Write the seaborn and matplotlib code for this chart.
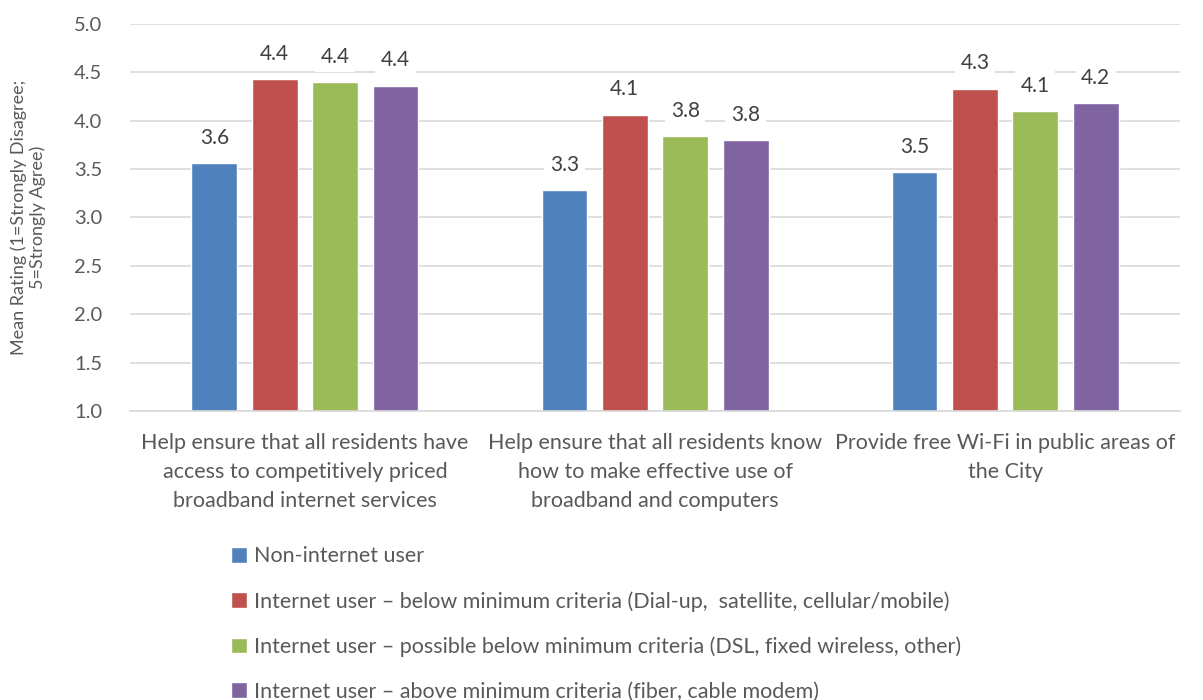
import pandas as pd
import matplotlib.pyplot as plt
import seaborn as sns
from matplotlib.patches import Patch

# Chart data
categories = [
    'Help ensure that all residents have\naccess to competitively priced\nbroadband internet services',
    'Help ensure that all residents know\nhow to make effective use of\nbroadband and computers',
    'Provide free Wi-Fi in public areas of\nthe City',
]
groups = [
    'Non-internet user',
    'Internet user \u2013 below minimum criteria (Dial-up,  satellite, cellular/mobile)',
    'Internet user \u2013 possible below minimum criteria (DSL, fixed wireless, other)',
    'Internet user \u2013 above minimum criteria (fiber, cable modem)',
]
non_user = [3.56, 3.28, 3.47]
below_min = [4.43, 4.06, 4.33]
possible_below = [4.40, 3.84, 4.10]
above_min = [4.36, 3.80, 4.18]
colors = ['#4f81bd', '#c0504d', '#9bbb59', '#8064a2']

rows = []
for g, vals in zip(groups, [non_user, below_min, possible_below, above_min]):
    for c, v in zip(categories, vals):
        rows.append({'category': c, 'group': g, 'rating': v})
df = pd.DataFrame(rows)

sns.set_style('white')
plt.rcParams['font.family'] = ['Lato', 'DejaVu Sans']
text_color = '#595959'

fig = plt.figure(figsize=(12.03, 7), dpi=100)
ax = fig.add_axes([0.108, 0.413, 0.873, 0.553])

sns.barplot(data=df, x='category', y='rating', hue='group', hue_order=groups,
            palette=colors, width=0.69, gap=0.24, ax=ax, legend=False,
            bottom=0, saturation=1)

ax.set_ylim(1.0, 5.0)
ax.set_yticks([1.0, 1.5, 2.0, 2.5, 3.0, 3.5, 4.0, 4.5, 5.0])
ax.set_yticklabels([f'{t:.1f}' for t in ax.get_yticks()])
ax.yaxis.grid(True, color='#d9d9d9', linewidth=1.2)
ax.set_axisbelow(True)
for s in ['top', 'right', 'left']:
    ax.spines[s].set_visible(False)
ax.spines['bottom'].set_color('#d9d9d9')
ax.spines['bottom'].set_linewidth(1.2)
ax.tick_params(axis='y', length=0, labelsize=14.5, colors=text_color, pad=20)
ax.tick_params(axis='x', length=0, labelsize=15.5, colors=text_color, pad=16)
for lbl in ax.get_xticklabels():
    lbl.set_linespacing(1.55)

ax.set_xlabel('')
ax.set_ylabel('Mean Rating (1=Strongly Disagree;\n5=Strongly Agree)', fontsize=13,
              color=text_color, labelpad=20)

for cont in ax.containers:
    ax.bar_label(cont, fmt='%.1f', padding=11, fontsize=15, color='#404040',
                 bbox=dict(facecolor='white', edgecolor='none', pad=4))

handles = [Patch(facecolor=c, label=g) for c, g in zip(colors, groups)]
fig.legend(handles=handles, loc='upper left', bbox_to_anchor=(0.185, 0.232),
           frameon=False, fontsize=15.5, labelcolor=text_color,
           handlelength=0.75, handleheight=0.75, handletextpad=0.3,
           labelspacing=1.15, borderaxespad=0)

fig.savefig('out.png', dpi=100)
